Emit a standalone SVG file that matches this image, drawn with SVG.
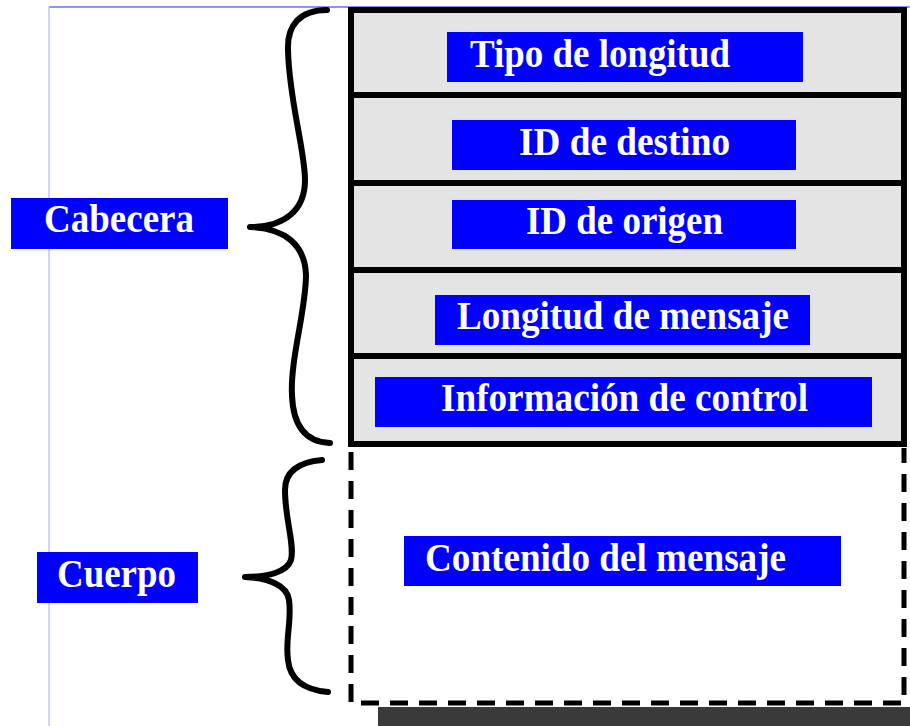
<svg xmlns="http://www.w3.org/2000/svg" width="910" height="726" viewBox="0 0 910 726">
  <style>
    .row { fill: #e4e4e4; stroke: none; }
    .frame { fill: none; stroke: #000; stroke-width: 6; }
    .dash { fill: none; stroke: #000; stroke-width: 5; stroke-dasharray: 18 11; }
    .lbl { fill: #0000ff; }
    .txt { font-family: "Liberation Serif", "Times New Roman", serif; font-weight: bold; font-size: 40px; fill: #ffffff; }
    .brace { fill: none; stroke: #000; stroke-width: 6; stroke-linecap: round; stroke-linejoin: round; }
  </style>
  <rect x="0" y="0" width="910" height="726" fill="#ffffff"/>
  <line x1="49" y1="7" x2="910" y2="7" stroke="#6a6aff" stroke-width="1.5"/>
  <line x1="49" y1="7" x2="49" y2="726" stroke="#b4b4ff" stroke-width="1.2"/>

  <g id="frame">
    <rect class="row" x="351" y="10" width="553" height="434"/>
    <rect class="frame" x="351" y="10" width="553" height="434"/>
    <line class="frame" x1="351" y1="95" x2="904" y2="95"/>
    <line class="frame" x1="351" y1="183" x2="904" y2="183"/>
    <line class="frame" x1="351" y1="270" x2="904" y2="270"/>
    <line class="frame" x1="351" y1="356" x2="904" y2="356"/>
  </g>

  <g id="body-frame">
    <path class="dash" d="M351,452 L351,703 L904,703 L904,448"/>
    <rect x="378" y="707" width="532" height="19" fill="#3a3a3a"/>
  </g>

  <g id="connectors">
    <path class="brace" d="M327,10 C300,10 287,25 288,50 C289,100 305,150 305,180 C305,210 285,227 250,227 C285,228 305,245 306,275 C306,310 290,360 292,395 C293,425 305,442 330,443"/>
    <path class="brace" d="M322,460 C300,462 285,470 285,490 C285,520 295,545 291,560 C287,572 268,577 245,577 C268,578 287,585 289,600 C292,620 285,640 288,660 C290,680 305,690 328,692"/>
  </g>

  <g id="tipo-longitud">
    <rect class="lbl" x="447" y="32" width="356" height="50"/>
    <text class="txt" x="470" y="67" textLength="260" lengthAdjust="spacingAndGlyphs">Tipo de longitud</text>
  </g>
  <g id="id-destino">
    <rect class="lbl" x="452" y="120" width="344" height="50"/>
    <text class="txt" x="519" y="155" textLength="211" lengthAdjust="spacingAndGlyphs">ID de destino</text>
  </g>
  <g id="id-origen">
    <rect class="lbl" x="452" y="200" width="344" height="49"/>
    <text class="txt" x="526" y="234" textLength="197" lengthAdjust="spacingAndGlyphs">ID de origen</text>
  </g>
  <g id="longitud-mensaje">
    <rect class="lbl" x="435" y="295" width="375" height="50"/>
    <text class="txt" x="457" y="329" textLength="332" lengthAdjust="spacingAndGlyphs">Longitud de mensaje</text>
  </g>
  <g id="info-control">
    <rect class="lbl" x="375" y="377" width="497" height="50"/>
    <text class="txt" x="441" y="411" textLength="367" lengthAdjust="spacingAndGlyphs">Información de control</text>
  </g>
  <g id="contenido">
    <rect class="lbl" x="404" y="536" width="437" height="50"/>
    <text class="txt" x="425" y="571" textLength="361" lengthAdjust="spacingAndGlyphs">Contenido del mensaje</text>
  </g>
  <g id="cabecera">
    <rect class="lbl" x="11" y="198" width="217" height="51"/>
    <text class="txt" x="44" y="232" textLength="150" lengthAdjust="spacingAndGlyphs">Cabecera</text>
  </g>
  <g id="cuerpo">
    <rect class="lbl" x="37" y="552" width="161" height="51"/>
    <text class="txt" x="57" y="587" textLength="119" lengthAdjust="spacingAndGlyphs">Cuerpo</text>
  </g>
</svg>
